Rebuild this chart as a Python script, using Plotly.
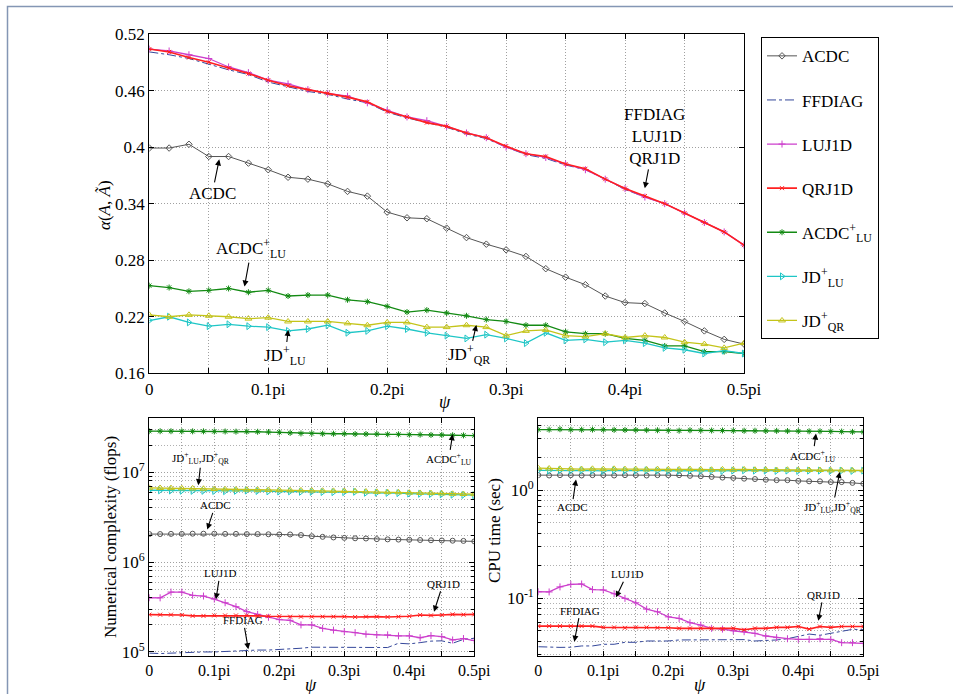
import numpy as np
import plotly.graph_objects as go

W, H = 953, 694

# ---------------- data ----------------
psi = np.linspace(0, 0.5, 31)  # psi / pi

names = ["ACDC", "FFDIAG", "LUJ1D", "QRJ1D",
         "ACDC<sup>+</sup><sub>LU</sub>", "JD<sup>+</sup><sub>LU</sub>", "JD<sup>+</sup><sub>QR</sub>"]

# top: alpha(A, A~)
acdc_top = [0.399, 0.399, 0.403, 0.390, 0.390, 0.383, 0.376, 0.368, 0.366, 0.361, 0.353, 0.348, 0.331, 0.325, 0.324, 0.314,
            0.304, 0.297, 0.291, 0.284, 0.271, 0.262, 0.254, 0.242, 0.235, 0.234, 0.224, 0.215, 0.205, 0.196, 0.191]
ffdiag_top = [0.501, 0.498, 0.494, 0.488, 0.482, 0.477, 0.469, 0.464, 0.459, 0.456, 0.451, 0.447, 0.437, 0.431, 0.426, 0.421,
              0.414, 0.409, 0.400, 0.392, 0.388, 0.381, 0.376, 0.366, 0.355, 0.347, 0.340, 0.330, 0.320, 0.310, 0.296]
luj1d_top = [0.504, 0.502, 0.498, 0.494, 0.485, 0.479, 0.471, 0.467, 0.461, 0.457, 0.454, 0.447, 0.439, 0.432, 0.428, 0.422,
             0.415, 0.410, 0.400, 0.393, 0.389, 0.382, 0.376, 0.366, 0.356, 0.347, 0.340, 0.330, 0.320, 0.310, 0.296]
qrj1d_top = [0.504, 0.501, 0.495, 0.490, 0.484, 0.478, 0.471, 0.465, 0.461, 0.457, 0.453, 0.448, 0.438, 0.432, 0.426, 0.422,
             0.415, 0.410, 0.401, 0.393, 0.390, 0.382, 0.377, 0.366, 0.356, 0.348, 0.340, 0.330, 0.320, 0.310, 0.296]
acdclu_top = [0.253, 0.251, 0.247, 0.248, 0.250, 0.246, 0.248, 0.242, 0.243, 0.243, 0.238, 0.236, 0.231, 0.225, 0.227, 0.224,
              0.221, 0.217, 0.215, 0.211, 0.211, 0.204, 0.202, 0.202, 0.197, 0.195, 0.189, 0.189, 0.183, 0.183, 0.181]
jdlu_top = [0.216, 0.220, 0.214, 0.210, 0.212, 0.210, 0.209, 0.205, 0.207, 0.211, 0.203, 0.205, 0.210, 0.207, 0.203, 0.200,
            0.197, 0.201, 0.197, 0.192, 0.203, 0.195, 0.196, 0.193, 0.195, 0.192, 0.187, 0.185, 0.181, 0.184, 0.181]
jdqr_top = [0.222, 0.220, 0.222, 0.221, 0.220, 0.218, 0.219, 0.215, 0.215, 0.215, 0.213, 0.211, 0.214, 0.214, 0.209, 0.209,
            0.211, 0.209, 0.200, 0.205, 0.206, 0.200, 0.199, 0.202, 0.198, 0.200, 0.198, 0.193, 0.191, 0.187, 0.192]

# bottom-left: numerical complexity (flops)
acdc_flops = [2.05e6, 2.05e6, 2.06e6, 2.06e6, 2.07e6, 2.07e6, 2.07e6, 2.06e6, 2.06e6, 2.05e6, 2.05e6, 2.04e6, 2.03e6, 2.03e6,
              2.00e6, 1.94e6, 1.91e6, 1.88e6, 1.86e6, 1.84e6, 1.83e6, 1.80e6, 1.79e6, 1.78e6, 1.77e6, 1.76e6, 1.75e6,
              1.74e6, 1.73e6, 1.72e6, 1.70e6]
ffdiag_flops = [0.97e5, 0.96e5, 0.97e5, 0.98e5, 1.00e5, 1.00e5, 1.00e5, 1.01e5, 1.03e5, 1.05e5, 1.05e5, 1.05e5, 1.06e5,
                1.08e5, 1.10e5, 1.13e5, 1.13e5, 1.13e5, 1.12e5, 1.12e5, 1.13e5, 1.12e5, 1.12e5, 1.25e5, 1.23e5, 1.27e5,
                1.32e5, 1.33e5, 1.25e5, 1.38e5, 1.42e5]
luj1d_flops = [4.01e5, 4.00e5, 4.64e5, 4.64e5, 4.27e5, 4.19e5, 3.88e5, 3.53e5, 3.19e5, 2.81e5, 2.62e5, 2.43e5, 2.29e5,
               2.25e5, 2.00e5, 2.00e5, 1.83e5, 1.75e5, 1.68e5, 1.64e5, 1.58e5, 1.55e5, 1.55e5, 1.51e5, 1.51e5, 1.44e5,
               1.52e5, 1.48e5, 1.36e5, 1.41e5, 1.34e5]
qrj1d_flops = [2.60e5, 2.60e5, 2.60e5, 2.58e5, 2.52e5, 2.52e5, 2.55e5, 2.55e5, 2.55e5, 2.55e5, 2.52e5, 2.50e5, 2.50e5,
               2.47e5, 2.47e5, 2.47e5, 2.47e5, 2.47e5, 2.47e5, 2.45e5, 2.47e5, 2.47e5, 2.45e5, 2.47e5, 2.50e5, 2.58e5,
               2.55e5, 2.58e5, 2.62e5, 2.60e5, 2.62e5]
acdclu_flops = [2.86e7, 2.86e7, 2.86e7, 2.85e7, 2.85e7, 2.85e7, 2.84e7, 2.84e7, 2.83e7, 2.83e7, 2.82e7, 2.80e7, 2.78e7,
                2.74e7, 2.70e7, 2.70e7, 2.68e7, 2.68e7, 2.68e7, 2.66e7, 2.66e7, 2.66e7, 2.64e7, 2.64e7, 2.62e7, 2.62e7,
                2.60e7, 2.60e7, 2.58e7, 2.57e7, 2.56e7]
jdlu_flops = [6.30e6, 6.28e6, 6.25e6, 6.22e6, 6.20e6, 6.20e6, 6.18e6, 6.15e6, 6.20e6, 6.25e6, 6.18e6, 6.12e6, 6.10e6,
              6.12e6, 6.05e6, 6.05e6, 6.02e6, 6.00e6, 6.00e6, 6.05e6, 5.90e6, 5.92e6, 5.88e6, 5.85e6, 5.78e6, 5.75e6,
              5.72e6, 5.68e6, 5.62e6, 5.58e6, 5.55e6]
jdqr_flops = [6.70e6, 6.68e6, 6.65e6, 6.62e6, 6.60e6, 6.55e6, 6.50e6, 6.45e6, 6.42e6, 6.40e6, 6.38e6, 6.35e6, 6.32e6,
              6.30e6, 6.28e6, 6.25e6, 6.22e6, 6.20e6, 6.18e6, 6.15e6, 6.10e6, 6.05e6, 6.00e6, 5.98e6, 5.92e6, 5.88e6,
              5.85e6, 5.80e6, 5.75e6, 5.72e6, 5.70e6]

# bottom-right: CPU time (sec)
acdc_cpu = [1.38, 1.37, 1.38, 1.38, 1.37, 1.38, 1.38, 1.37, 1.38, 1.38, 1.37, 1.38, 1.38, 1.38, 1.36, 1.35, 1.33, 1.31,
            1.30, 1.28, 1.27, 1.25, 1.24, 1.24, 1.22, 1.21, 1.21, 1.19, 1.19, 1.17, 1.15]
ffdiag_cpu = [0.0354, 0.0349, 0.0349, 0.0350, 0.0360, 0.0360, 0.0373, 0.0373, 0.0389, 0.0389, 0.0400, 0.0400, 0.0400,
              0.0409, 0.0409, 0.0412, 0.0409, 0.0409, 0.0409, 0.0412, 0.0400, 0.0403, 0.0409, 0.0420, 0.0438, 0.0464,
              0.0452, 0.0470, 0.0488, 0.0513, 0.0510]
luj1d_cpu = [0.1145, 0.1140, 0.127, 0.134, 0.135, 0.120, 0.119, 0.1097, 0.0994, 0.0905, 0.079, 0.0747, 0.067, 0.0648,
             0.0591, 0.0562, 0.0524, 0.0516, 0.0498, 0.0488, 0.0471, 0.0445, 0.0430, 0.0420, 0.0414, 0.0414, 0.0420,
             0.0414, 0.0386, 0.0386, 0.0380]
qrj1d_cpu = [0.0550, 0.0550, 0.0550, 0.0550, 0.0550, 0.0550, 0.0535, 0.0535, 0.0530, 0.0535, 0.0535, 0.0530, 0.0530,
             0.0524, 0.0524, 0.0524, 0.0524, 0.0516, 0.0524, 0.0508, 0.0524, 0.0524, 0.0535, 0.0535, 0.0545, 0.0516,
             0.0545, 0.0535, 0.0545, 0.0545, 0.0545]
acdclu_cpu = [3.65, 3.65, 3.68, 3.64, 3.64, 3.65, 3.64, 3.63, 3.62, 3.62, 3.61, 3.60, 3.58, 3.57, 3.60, 3.59, 3.58,
              3.58, 3.57, 3.56, 3.56, 3.55, 3.55, 3.54, 3.53, 3.52, 3.52, 3.51, 3.50, 3.48, 3.47]
jdlu_cpu = [1.53, 1.52, 1.53, 1.52, 1.53, 1.52, 1.51, 1.53, 1.52, 1.52, 1.53, 1.52, 1.51, 1.51, 1.52, 1.51, 1.52,
            1.51, 1.52, 1.53, 1.52, 1.52, 1.51, 1.52, 1.51, 1.52, 1.52, 1.51, 1.52, 1.51, 1.52]
jdqr_cpu = [1.60, 1.59, 1.58, 1.58, 1.57, 1.58, 1.57, 1.58, 1.57, 1.57, 1.56, 1.57, 1.56, 1.56, 1.57, 1.56, 1.55,
            1.56, 1.55, 1.56, 1.55, 1.55, 1.54, 1.55, 1.54, 1.54, 1.54, 1.53, 1.53, 1.53, 1.53]

xtick_vals = [0, 0.05, 0.1, 0.15, 0.2, 0.25, 0.3, 0.35, 0.4, 0.45, 0.5]
xtick_text = ["0", "", "0.1pi", "", "0.2pi", "", "0.3pi", "", "0.4pi", "", "0.5pi"]
ytick_top = [0.16, 0.22, 0.28, 0.34, 0.40, 0.46, 0.52]
ytick_top_text = ["0.16", "0.22", "0.28", "0.34", "0.4", "0.46", "0.52"]

# ---------------- styles ----------------
FONT = "Liberation Serif"
styles = [
    dict(color="#555555", dash="solid", width=1, symbol="diamond-open", size=5),
    dict(color="#34479a", dash="dashdot", width=1, symbol=None, size=0),
    dict(color="#cc3fcc", dash="solid", width=1.3, symbol="cross-thin-open", size=5),
    dict(color="#ff2020", dash="solid", width=1.6, symbol="x-thin-open", size=4),
    dict(color="#138a13", dash="solid", width=1.3, symbol="asterisk-open", size=5),
    dict(color="#1fc6c6", dash="solid", width=1.3, symbol="triangle-right-open", size=6),
    dict(color="#c4c41a", dash="solid", width=1.3, symbol="triangle-up-open", size=6),
]

fig = go.Figure()


def add_series(ys, xa, ya, showlegend, circle_acdc=False):
    for i, (nm, y) in enumerate(zip(names, ys)):
        st = styles[i]
        sym = st["symbol"]
        if i == 0 and circle_acdc:
            sym = "circle-open"
        mode = "lines" if sym is None else "lines+markers"
        marker = dict(symbol=sym, size=st["size"], color=st["color"],
                      line=dict(color=st["color"], width=1)) if sym else None
        fig.add_trace(go.Scatter(
            x=psi, y=y, name=nm, mode=mode, xaxis=xa, yaxis=ya,
            line=dict(color=st["color"], dash=st["dash"], width=st["width"]),
            marker=marker, showlegend=showlegend, legendgroup=nm))


add_series([acdc_top, ffdiag_top, luj1d_top, qrj1d_top, acdclu_top, jdlu_top, jdqr_top], "x", "y", True)
add_series([acdc_flops, ffdiag_flops, luj1d_flops, qrj1d_flops, acdclu_flops, jdlu_flops, jdqr_flops], "x2", "y2", False, True)
add_series([acdc_cpu, ffdiag_cpu, luj1d_cpu, qrj1d_cpu, acdclu_cpu, jdlu_cpu, jdqr_cpu], "x3", "y3", False, True)

# ---------------- axes ----------------
def px_x(p):
    return p / W


def px_y(p):
    return 1 - p / H


DOT = "1px,2px"
grid = dict(showgrid=True, gridcolor="#a0a0a0", griddash=DOT, gridwidth=1)
common = dict(showline=True, linecolor="black", linewidth=1.2, mirror="allticks", ticks="inside",
              ticklen=5, tickcolor="black", zeroline=False, **grid)

xcommon = dict(common, tickvals=xtick_vals, ticktext=xtick_text, range=[0, 0.5])
minor = dict(showgrid=True, gridcolor="#b0b0b0", griddash=DOT, ticks="inside", ticklen=3,
             tickcolor="black", dtick="D1")

fig.update_layout(
    xaxis=dict(xcommon, domain=[px_x(149.3), px_x(744)], anchor="y",
               tickfont=dict(family=FONT, size=17, color="black")),
    yaxis=dict(common, domain=[px_y(373.3), px_y(34)], anchor="x", range=[0.16, 0.52],
               tickvals=ytick_top, ticktext=ytick_top_text,
               tickfont=dict(family=FONT, size=17, color="black")),
    xaxis2=dict(xcommon, domain=[px_x(149.3), px_x(474.3)], anchor="y2",
                tickfont=dict(family=FONT, size=16, color="black")),
    yaxis2=dict(common, domain=[px_y(656), px_y(418.3)], anchor="x2", type="log",
                range=[4.955, 7.6], tickvals=[1e5, 1e6, 1e7],
                ticktext=["10<sup>5</sup>", "10<sup>6</sup>", "10<sup>7</sup>"],
                tickfont=dict(family=FONT, size=17, color="black"), minor=minor),
    xaxis3=dict(xcommon, domain=[px_x(538.3), px_x(863.3)], anchor="y3",
                tickfont=dict(family=FONT, size=16, color="black")),
    yaxis3=dict(common, domain=[px_y(656), px_y(418.3)], anchor="x3", type="log",
                range=[-1.537, 0.667], tickvals=[0.1, 1],
                ticktext=["10<sup>-1</sup>", "10<sup>0</sup>"],
                tickfont=dict(family=FONT, size=17, color="black"), minor=minor),
    width=W, height=H, margin=dict(l=0, r=0, t=0, b=0, autoexpand=False),
    paper_bgcolor="white", plot_bgcolor="white",
    font=dict(family=FONT, color="black"),
    legend=dict(x=px_x(761), y=px_y(37.3), xanchor="left", yanchor="top",
                bordercolor="black", borderwidth=1, bgcolor="white",
                font=dict(family=FONT, size=17, color="black"), tracegroupgap=19,
                itemwidth=30),
)

# outer frame
fig.add_shape(type="rect", xref="paper", yref="paper", x0=px_x(7.5), x1=1.02, y0=-0.02, y1=px_y(6.5),
              line=dict(color="#8496b4", width=1.5), fillcolor="rgba(0,0,0,0)", layer="below")


# ---------------- axis titles (placed as in the reference) ----------------
def title(text, xp, yp, size, angle=0):
    fig.add_annotation(text=text, x=px_x(xp), y=px_y(yp), xref="paper", yref="paper",
                       showarrow=False, textangle=angle, xanchor="center", yanchor="middle",
                       font=dict(family=FONT, size=size, color="black"))


title("<i>α</i>(<i>A</i>, <i>Ã</i>)", 105, 205, 17, -90)
title("<i>ψ</i>", 445, 402, 18)
title("Numerical complexity (flops)", 110, 537, 17, -90)
title("<i>ψ</i>", 311, 685, 18)
title("CPU time (sec)", 494, 530, 17, -90)
title("<i>ψ</i>", 700, 685, 18)


# ---------------- annotations ----------------
def ann(text, x, y, ax, ay, xref, yref, size):
    fig.add_annotation(text=text, x=x, y=y, ax=ax, ay=ay, xref=xref, yref=yref,
                       showarrow=True, arrowhead=2, arrowsize=1.1, arrowwidth=1.1, arrowcolor="black",
                       font=dict(family=FONT, size=size, color="black"), standoff=0, startstandoff=0)


ann("ACDC", 0.0588, 0.387, -7, 34, "x", "y", 17)
ann("ACDC<sup>+</sup><sub>LU</sub>", 0.080, 0.252, 7, -38, "x", "y", 17)
ann("JD<sup>+</sup><sub>LU</sub>", 0.1168, 0.206, -3, 26, "x", "y", 17)
ann("JD<sup>+</sup><sub>QR</sub>", 0.275, 0.2113, -7, 30, "x", "y", 17)
ann("FFDIAG<br> LUJ1D<br>QRJ1D", 0.4166, 0.3563, 10, -52, "x", "y", 17)

ann("JD<sup>+</sup><sub>LU</sub>,JD<sup>+</sup><sub>QR</sub>", 0.0754, np.log10(7.17e6), 3, -27, "x2", "y2", 11)
ann("ACDC", 0.0892, np.log10(2.31e6), 8, -24, "x2", "y2", 11)
ann("LUJ1D", 0.1026, np.log10(3.85e5), 4, -26, "x2", "y2", 11)
ann("FFDIAG", 0.1523, np.log10(1.07e5), -5, -29, "x2", "y2", 11)
ann("QRJ1D", 0.438, np.log10(2.8e5), 9, -28, "x2", "y2", 11)
ann("ACDC<sup>+</sup><sub>LU</sub>", 0.4667, np.log10(2.64e7), -4, 25, "x2", "y2", 11)

ann("ACDC", 0.058, np.log10(1.256), -4, 27, "x3", "y3", 11)
ann("LUJ1D", 0.1195, np.log10(0.1016), 11, -23, "x3", "y3", 11)
ann("FFDIAG", 0.0554, np.log10(0.0394), 6, -31, "x3", "y3", 11)
ann("ACDC<sup>+</sup><sub>LU</sub>", 0.4272, np.log10(3.35), -3, 22, "x3", "y3", 11)
ann("JD<sup>+</sup><sub>LU</sub>,JD<sup>+</sup><sub>QR</sub>", 0.4638, np.log10(1.476), -7, 35, "x3", "y3", 11)
ann("QRJ1D", 0.4308, np.log10(0.0616), 5, -26, "x3", "y3", 11)

fig.write_html("out.html", config={"displayModeBar": False},
               post_script="document.body.style.margin='0px';document.body.style.padding='0px';")
